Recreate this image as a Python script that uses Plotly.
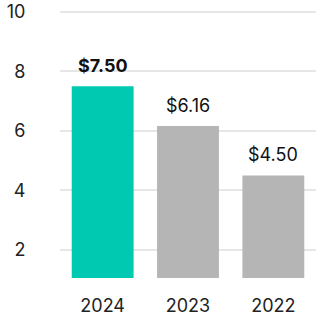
import plotly.graph_objects as go

years = ["2024", "2023", "2022"]
values = [7.50, 6.16, 4.50]
labels = ["$7.50", "$6.16", "$4.50"]
colors = ["#00C9B1", "#B5B5B5", "#B5B5B5"]
bold = [True, False, False]

texts = [f"<b>{l}</b>" if b else l for l, b in zip(labels, bold)]

fig = go.Figure()
fig.add_trace(go.Bar(x=years, y=values, marker=dict(color=colors, line=dict(width=0)),
                     hoverinfo="skip"))

for i, (v, t) in enumerate(zip(values, texts)):
    fig.add_annotation(x=i, y=v, xref="x", yref="y", text=t, showarrow=False,
                       yanchor="bottom", yshift=8,
                       font=dict(family="Inter", size=18, color="#111111"))

fig.update_layout(
    width=326, height=326,
    margin=dict(l=60, r=10, t=9, b=48, autoexpand=False),
    paper_bgcolor="white", plot_bgcolor="white",
    bargap=0.275,
    showlegend=False,
    font=dict(family="Inter", size=18, color="#222222"),
    xaxis=dict(type="category", categoryorder="array", categoryarray=years),
)
fig.update_xaxes(showgrid=False, showline=False, ticks="outside", ticklen=11,
                 tickcolor="rgba(0,0,0,0)", tickfont=dict(size=18, color="#222222"))
fig.update_yaxes(range=[1.05, 10.1], tickvals=[2, 4, 6, 8, 10], showgrid=True,
                 gridcolor="#E6E6E6", gridwidth=1.5, zeroline=False, showline=False,
                 ticks="outside", ticklen=30, tickcolor="rgba(0,0,0,0)",
                 tickfont=dict(size=18, color="#222222"))

fig.write_html("out.html")
